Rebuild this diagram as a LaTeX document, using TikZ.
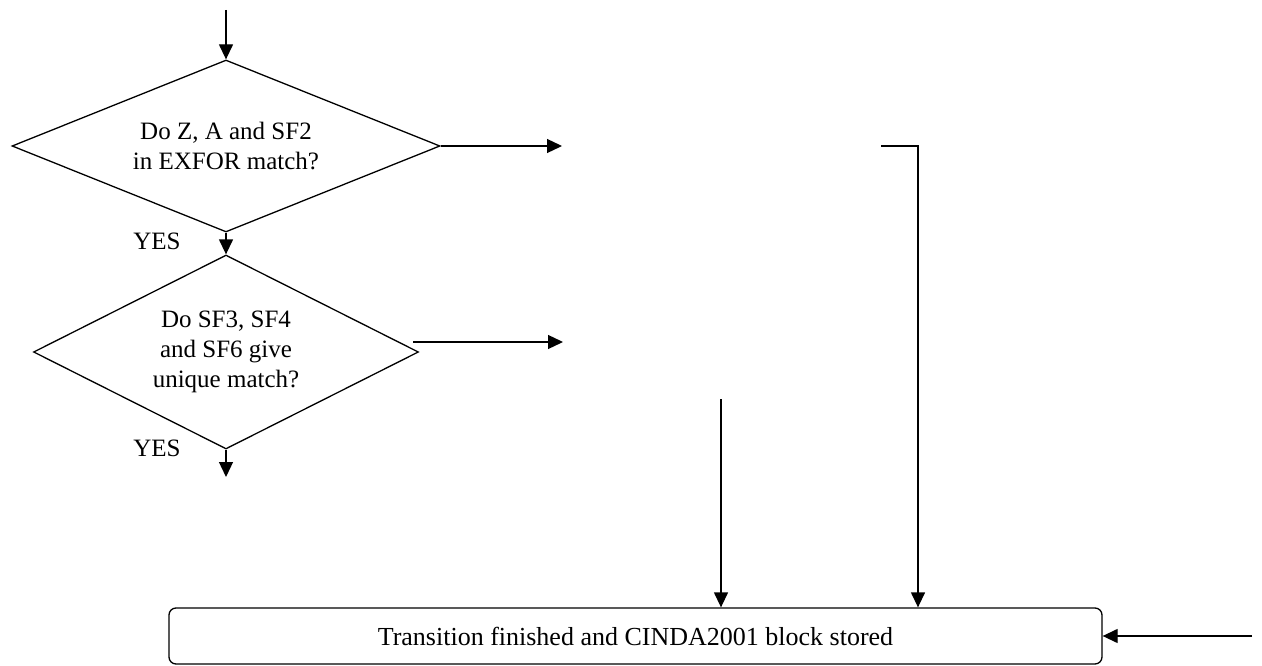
\documentclass[tikz,border=0pt]{standalone}
\usepackage{fontspec}
\setmainfont{Liberation Serif}
\usetikzlibrary{shapes.geometric,arrows.meta}
\begin{document}
\begin{tikzpicture}[x=1pt,y=-1pt,
  every node/.style={font=\fontsize{25}{30}\selectfont},
  dia/.style={draw, shape=diamond, line width=1.3pt, inner sep=0pt, align=center, aspect=2},
  finbox/.style={draw, rectangle, rounded corners=7pt, line width=1.3pt, inner sep=0pt, font=\fontsize{26}{30}\selectfont},
  arr/.style={line width=1.3pt, -{Triangle[length=15pt,width=14pt]}},
  ln/.style={line width=1.3pt}]
\useasboundingbox (0,0) rectangle (1262,666);
\node[dia, minimum width=428pt, minimum height=172pt] (d1) at (226,146) {Do Z, A and SF2\\in EXFOR match?};
\node[dia, minimum width=385pt, minimum height=194pt] (d2) at (226,352) {Do SF3, SF4\\and SF6 give\\unique match?};
\node[finbox, minimum width=933pt, minimum height=56pt] (fin) at (635.5,636) {Transition finished and CINDA2001 block stored};
\node (yes1) at (157,241) {YES};
\node (yes2) at (157,448) {YES};
\coordinate (top) at (226,10);
\coordinate (o1) at (562,146);
\coordinate (o2s) at (413,342);
\coordinate (o2e) at (563,342);
\coordinate (d2out) at (226,477);
\coordinate (r1) at (881,146);
\coordinate (r2) at (918,146);
\coordinate (l1) at (721,399);
\coordinate (rin) at (1252,636);
\draw[arr] (top) -- (d1.north);
\draw[arr] (d1.south) -- (d2.north);
\draw[arr] (d1.east) -- (o1);
\draw[arr] (o2s) -- (o2e);
\draw[arr] (d2.south) -- (d2out);
\draw[arr] (r1) -- (r2) -- (r2 |- fin.north);
\draw[arr] (l1) -- (l1 |- fin.north);
\draw[arr] (rin) -- (fin.east);
\end{tikzpicture}
\end{document}
